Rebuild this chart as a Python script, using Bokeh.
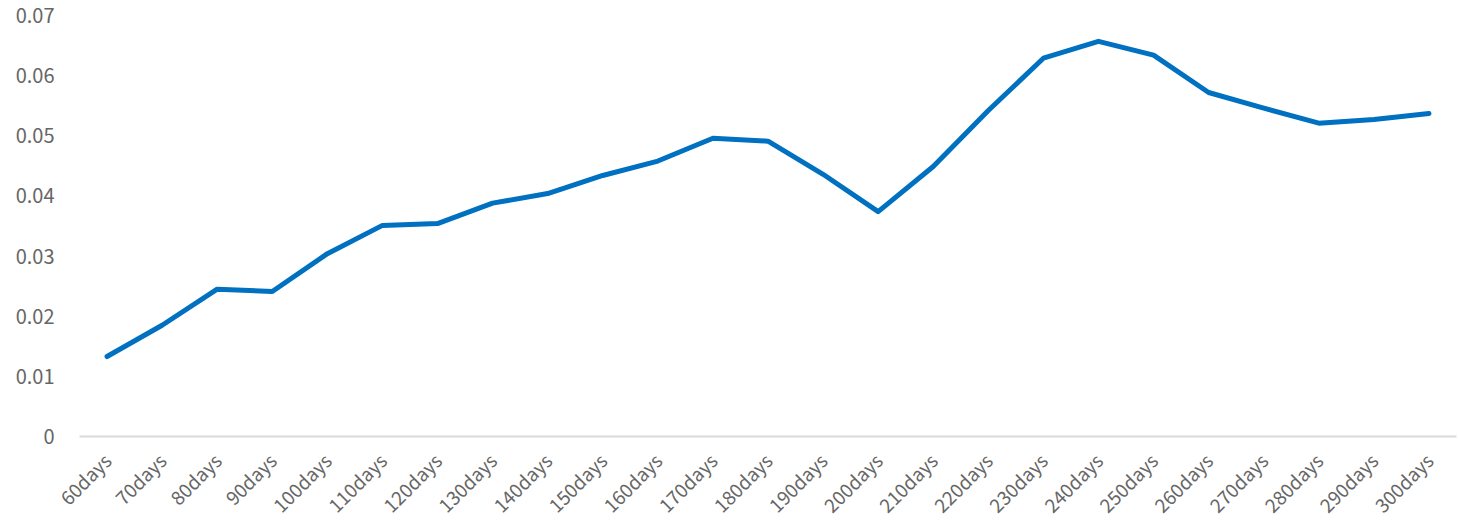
from bokeh.plotting import figure
from bokeh.embed import file_html
from bokeh.resources import INLINE
from bokeh.models import Range1d, FixedTicker
import math

categories = ["60days", "70days", "80days", "90days", "100days", "110days", "120days",
              "130days", "140days", "150days", "160days", "170days", "180days", "190days",
              "200days", "210days", "220days", "230days", "240days", "250days", "260days",
              "270days", "280days", "290days", "300days"]
values = [0.0133, 0.0185, 0.0245, 0.0241, 0.0304, 0.0351, 0.0354, 0.0388, 0.0404,
          0.0434, 0.0458, 0.0496, 0.0491, 0.0436, 0.0374, 0.0449, 0.0542, 0.0629,
          0.0657, 0.0634, 0.0572, 0.0546, 0.0521, 0.0527, 0.0537]
y_ticks = [0, 0.01, 0.02, 0.03, 0.04, 0.05, 0.06, 0.07]
y_tick_labels = ["0", "0.01", "0.02", "0.03", "0.04", "0.05", "0.06", "0.07"]

p = figure(x_range=categories, y_range=Range1d(0, 0.07), width=1458, height=531,
           output_backend="svg", toolbar_location=None,
           min_border_left=79, min_border_right=2, min_border_top=15, min_border_bottom=95)
p.outline_line_color = None
p.xgrid.grid_line_color = None
p.ygrid.grid_line_color = None

p.line(categories, values, line_color="#0070C0", line_width=5, line_join="round", line_cap="round")

p.yaxis.ticker = FixedTicker(ticks=y_ticks)
p.yaxis.major_label_overrides = {t: l for t, l in zip(y_ticks, y_tick_labels)}
p.yaxis.axis_line_color = None
p.yaxis.major_tick_line_color = None
p.yaxis.minor_tick_line_color = None
p.yaxis.major_label_text_font = "Noto Sans CJK SC"
p.yaxis.major_label_text_font_size = "20px"
p.yaxis.major_label_text_color = "#666666"
p.yaxis.major_label_standoff = 19

p.xaxis.axis_line_color = "#d9d9d9"
p.xaxis.axis_line_width = 2
p.xaxis.major_tick_line_color = None
p.xaxis.minor_tick_line_color = None
p.xaxis.major_label_orientation = math.pi / 4
p.xaxis.major_label_text_font = "Noto Sans CJK SC"
p.xaxis.major_label_text_font_size = "19px"
p.xaxis.major_label_text_color = "#666666"
p.xaxis.major_label_standoff = 14

open("out.html", "w").write(file_html(p, INLINE))
